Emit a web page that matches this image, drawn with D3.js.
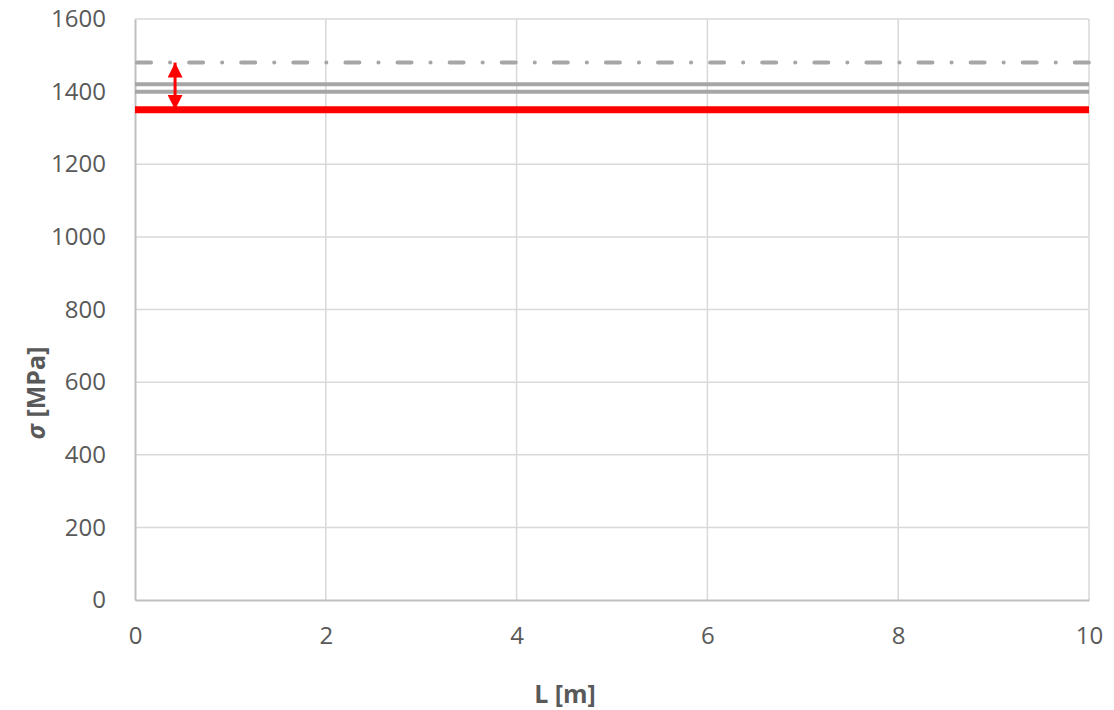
<!DOCTYPE html>
<html>
<head>
<meta charset="utf-8">
<script src="https://cdn.jsdelivr.net/npm/d3@7/dist/d3.min.js"></script>
<style>
  html, body { margin: 0; padding: 0; background: #fff; }
  svg { display: block; }
  text { font-family: "Open Sans", "Liberation Sans", sans-serif; }
</style>
</head>
<body>
<svg id="chart" width="1114" height="710"></svg>
<script>
// Stress levels [MPa] along the length L [m]
const xDomain = [0, 10];
const yDomain = [0, 1600];
const xTicks = [0, 2, 4, 6, 8, 10];
const yTicks = [0, 200, 400, 600, 800, 1000, 1200, 1400, 1600];

const lineL = [0, 10];
const upperDashDot = [1480, 1480];
const grayUpper = [1420, 1420];
const grayLower = [1400, 1400];
const redLevel = [1350, 1350];

// Double arrow marking the gap between the red level and the dash-dot level
const arrowL = 0.42;
const arrowFrom = 1350;
const arrowTo = 1480;

const svg = d3.select("#chart");
const margin = { left: 135, right: 1114 - 1089, top: 19, bottom: 710 - 600 };
const W = 1114, H = 710;

const x = d3.scaleLinear().domain(xDomain).range([margin.left, W - margin.right]);
const y = d3.scaleLinear().domain(yDomain).range([H - margin.bottom, margin.top]);

// Gridlines
svg.append("g").selectAll("line.v").data(xTicks.slice(1)).join("line")
  .attr("x1", d => x(d)).attr("x2", d => x(d))
  .attr("y1", y(yDomain[0])).attr("y2", y(yDomain[1]))
  .attr("stroke", "#d9d9d9").attr("stroke-width", 1.5);
svg.append("g").selectAll("line.h").data(yTicks.slice(1)).join("line")
  .attr("x1", x(xDomain[0])).attr("x2", x(xDomain[1]))
  .attr("y1", d => y(d)).attr("y2", d => y(d))
  .attr("stroke", "#d9d9d9").attr("stroke-width", 1.5);

// Axes
const fmt = d3.format("d");
const xAxis = svg.append("g").attr("transform", `translate(0,${y(0)})`)
  .call(d3.axisBottom(x).tickValues(xTicks).tickFormat(fmt).tickSize(0).tickPadding(27));
xAxis.select(".domain").attr("stroke", "#bfbfbf").attr("stroke-width", 2);
const yAxis = svg.append("g").attr("transform", `translate(${x(0)},0)`)
  .call(d3.axisLeft(y).tickValues(yTicks).tickFormat(fmt).tickSize(0).tickPadding(29));
yAxis.select(".domain").attr("stroke", "#bfbfbf").attr("stroke-width", 2);
svg.selectAll(".tick text")
  .attr("fill", "#595959").style("font-size", "24px")
  .style("font-family", "'Open Sans', sans-serif");

// Level lines
const line = d3.line().x(d => x(d[0])).y(d => y(d[1]));
const zip = vals => lineL.map((l, i) => [l, vals[i]]);

svg.append("path").datum(zip(upperDashDot)).attr("d", line)
  .attr("fill", "none").attr("stroke", "#a6a6a6").attr("stroke-width", 4)
  .attr("stroke-linecap", "round").attr("stroke-dasharray", "14,19,0.1,19")
  .attr("transform", "translate(2,0)");
svg.append("path").datum(zip(grayUpper)).attr("d", line)
  .attr("fill", "none").attr("stroke", "#a6a6a6").attr("stroke-width", 4);
svg.append("path").datum(zip(grayLower)).attr("d", line)
  .attr("fill", "none").attr("stroke", "#a6a6a6").attr("stroke-width", 4);
svg.append("path").datum(zip(redLevel)).attr("d", line)
  .attr("fill", "none").attr("stroke", "#ff0000").attr("stroke-width", 7);

// Double-headed arrow
const defs = svg.append("defs");
["start", "end"].forEach(k => {
  defs.append("marker").attr("id", "arr-" + k)
    .attr("viewBox", "0 0 10 10").attr("refX", 10).attr("refY", 5)
    .attr("markerWidth", 5).attr("markerHeight", 5)
    .attr("markerUnits", "strokeWidth")
    .attr("orient", k === "start" ? "auto-start-reverse" : "auto")
    .append("path").attr("d", "M0,0 L10,5 L0,10 Z").attr("fill", "#ff0000");
});
svg.append("line")
  .attr("x1", x(arrowL)).attr("x2", x(arrowL))
  .attr("y1", y(arrowFrom)).attr("y2", y(arrowTo))
  .attr("stroke", "#ff0000").attr("stroke-width", 3)
  .attr("marker-start", "url(#arr-start)").attr("marker-end", "url(#arr-end)");

// Axis titles
svg.append("text").attr("x", 565).attr("y", 703)
  .attr("text-anchor", "middle").attr("fill", "#595959")
  .style("font-size", "25px").style("font-weight", "bold")
  .text("L [m]");
const yt = svg.append("text")
  .attr("transform", "translate(45,393) rotate(-90)")
  .attr("text-anchor", "middle").attr("fill", "#595959")
  .style("font-size", "25px").style("font-weight", "bold");
yt.append("tspan").style("font-style", "italic").text("σ");
yt.append("tspan").text(" [MPa]");
</script>
</body>
</html>
